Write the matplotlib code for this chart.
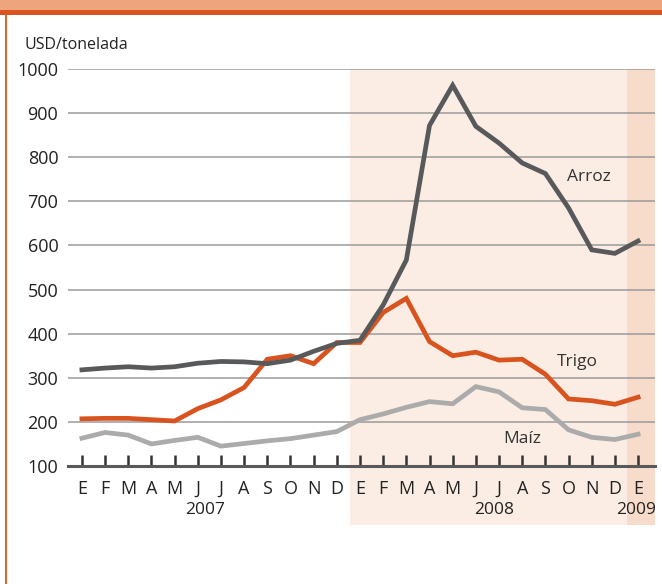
import matplotlib.pyplot as plt
from matplotlib.patches import Rectangle
from matplotlib.transforms import blended_transform_factory

plt.rcParams['font.family'] = ['Open Sans', 'DejaVu Sans']

months = ["E", "F", "M", "A", "M", "J", "J", "A", "S", "O", "N", "D",
          "E", "F", "M", "A", "M", "J", "J", "A", "S", "O", "N", "D", "E"]
years = ["2007", "2008", "2009"]
year_pos = [5.3, 17.8, 23.9]

arroz = [318, 322, 325, 322, 325, 333, 337, 336, 332, 340, 360, 378,
         385, 465, 567, 872, 963, 870, 832, 787, 763, 685, 590, 582, 610]
trigo = [207, 208, 208, 205, 202, 230, 250, 278, 342, 350, 332, 380,
         380, 448, 480, 382, 350, 358, 340, 342, 308, 252, 248, 240, 256]
maiz = [163, 176, 170, 150, 158, 165, 145, 151, 157, 162, 170, 178,
        205, 218, 233, 246, 241, 280, 268, 232, 228, 182, 165, 160, 172]

x = list(range(len(months)))

fig = plt.figure(figsize=(6.62, 5.84), dpi=100)
fig.patch.set_facecolor("white")

# header band and left rule
fig.add_artist(Rectangle((0, 1 - 10 / 584), 1, 10 / 584, transform=fig.transFigure,
                         facecolor="#EEA47C", edgecolor="none"))
fig.add_artist(Rectangle((0, 1 - 15 / 584), 1, 5 / 584, transform=fig.transFigure,
                         facecolor="#D9531E", edgecolor="none"))
fig.add_artist(Rectangle((5 / 662, 0), 2 / 662, 1 - 15 / 584, transform=fig.transFigure,
                         facecolor="#E0622A", edgecolor="none"))

ax = fig.add_axes([68 / 662, 118 / 584, 587 / 662, 397 / 584])
ax.set_xlim(-0.6, 24.73)
ax.set_ylim(100, 1000)
ax.patch.set_alpha(0)

# shaded periods, running below the axis
tr = blended_transform_factory(ax.transData, fig.transFigure)
y0 = 59 / 584
h = (584 - 69) / 584 - y0
ax.add_patch(Rectangle((11.57, y0), 23.52 - 11.57, h, transform=tr,
                       facecolor="#FBEDE3", edgecolor="none", clip_on=False, zorder=0))
ax.add_patch(Rectangle((23.52, y0), 24.73 - 23.52, h, transform=tr,
                       facecolor="#F8DCCB", edgecolor="none", clip_on=False, zorder=0))

for v in range(200, 1001, 100):
    ax.axhline(v, color="#9A9A9A", lw=1.1, zorder=1)

ax.plot(x, maiz, color="#ABABAB", lw=3.4, solid_joinstyle="miter", zorder=3)
ax.plot(x, trigo, color="#D9531E", lw=3.4, solid_joinstyle="miter", zorder=4)
ax.plot(x, arroz, color="#58595B", lw=3.4, solid_joinstyle="miter", zorder=5)

ax.text(21.9, 755, "Arroz", fontsize=12.5, color="#333333", ha="center", va="center")
ax.text(21.4, 336, "Trigo", fontsize=12.5, color="#333333", ha="center", va="center")
ax.text(19.0, 161, "Maíz", fontsize=12.5, color="#333333", ha="center", va="center")

for s in ["top", "right", "left"]:
    ax.spines[s].set_visible(False)
ax.spines["bottom"].set_color("#58595B")
ax.spines["bottom"].set_linewidth(2.2)

ax.set_yticks(range(100, 1001, 100))
ax.tick_params(axis="y", length=0, labelsize=13, pad=7, colors="#222222")
ax.set_xticks(x)
ax.set_xticklabels(months)
ax.tick_params(axis="x", direction="in", length=8, width=1.8, color="#333333",
               labelsize=13, pad=10, labelcolor="#222222")

fig.text(25 / 662, 1 - 45 / 584, "USD/tonelada", fontsize=11.5, color="#222222",
         ha="left", va="center")
for yr, p in zip(years, year_pos):
    ax.text(p, -0.11, yr, transform=blended_transform_factory(ax.transData, ax.transAxes),
            fontsize=12.5, color="#222222", ha="center", va="center")

fig.savefig("out.png", dpi=100)
